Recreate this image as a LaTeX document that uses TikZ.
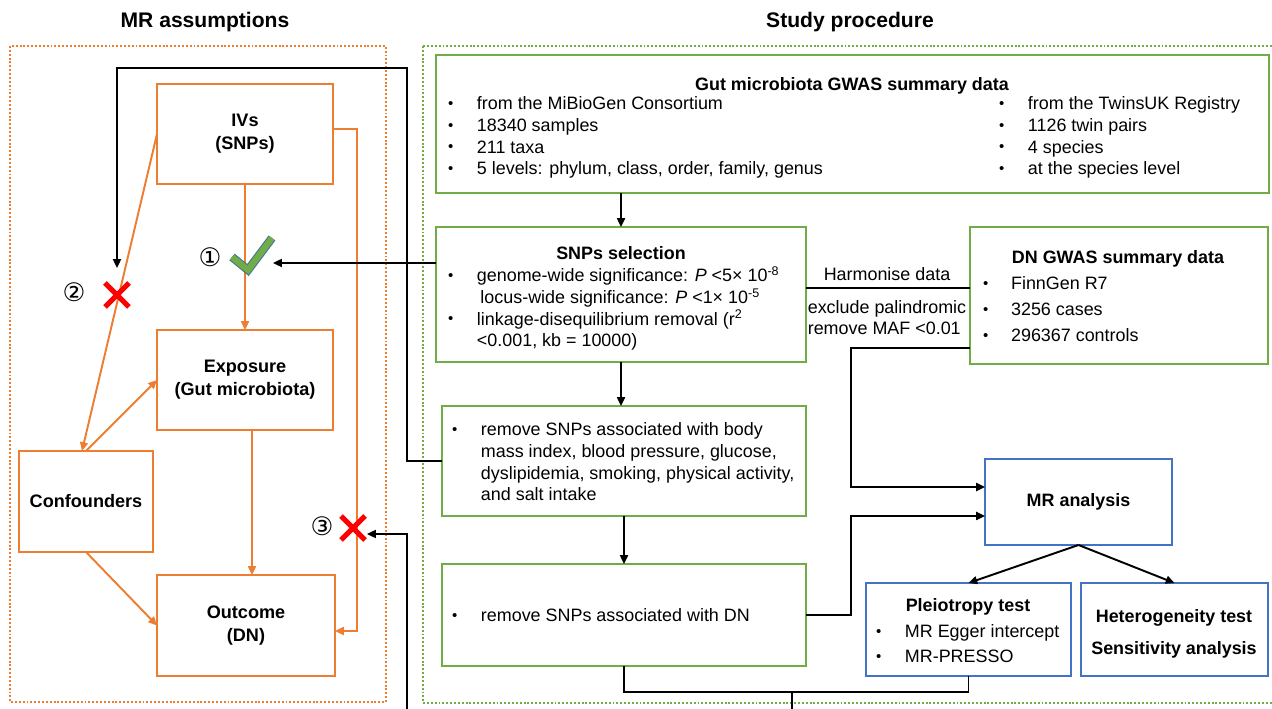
\documentclass[tikz,border=0pt]{standalone}
\usepackage{fontspec}
\setmainfont{Liberation Sans}
\newfontfamily\circfont{DejaVu Sans}
\usepackage{tikz}
\usetikzlibrary{arrows.meta,calc}
\definecolor{mrorange}{HTML}{ED7D31}
\definecolor{mrgreen}{HTML}{70AD47}
\definecolor{mrblue}{HTML}{4472C4}
\definecolor{tickblue}{HTML}{41719C}
\definecolor{tickgreen}{HTML}{70AD47}
\definecolor{xred}{HTML}{FF0000}
\newcommand{\bdot}{\raisebox{0.9pt}{\fontsize{8.5}{8.5}\selectfont\textbullet}}

\begin{document}
\begin{tikzpicture}[x=0.02cm, y=-0.02cm,
    every node/.style={font=\fontsize{10.2}{12.3}\selectfont, inner sep=0pt, outer sep=0pt},
    obox/.style={draw=mrorange, line width=1.1pt, align=center, font=\fontsize{10.3}{13}\selectfont\bfseries},
    gbox/.style={draw=mrgreen, line width=1.1pt},
    bbox/.style={draw=mrblue, line width=1.1pt, align=center, font=\fontsize{10.2}{18}\selectfont\bfseries},
    boxhead/.style={font=\fontsize{10.2}{12.3}\selectfont\bfseries},
    ttl/.style={font=\fontsize{12}{14}\selectfont\bfseries},
    blist/.style={anchor=base west},
    oarr/.style={draw=mrorange, line width=1.1pt, -{Triangle[length=5pt,width=4.5pt]}},
    barr/.style={line width=1.1pt, -{Triangle[length=5pt,width=4.5pt]}},
    bline/.style={line width=1.1pt},
    redx/.style={draw=xred, line width=3pt},
    circnum/.style={font=\fontsize{14.5}{14.5}\selectfont\circfont},
    dotframe/.style={line width=1pt, dash pattern=on 1.1pt off 1.1pt}]
    \clip (0,0) rectangle (1272,709);

    \node[ttl] (ttlmr) at (205,22) {MR assumptions};
    \node[ttl] (ttlsp) at (850,22) {Study procedure};
    \draw[dotframe, draw=mrorange] (10,46) rectangle (386,702);
    \draw[dotframe, draw=mrgreen] (423,46) rectangle (1290,703);

    \node[obox, minimum width=3.52cm, minimum height=2cm] (ivs) at (245,134) {IVs\\(SNPs)};
    \node[obox, minimum width=3.52cm, minimum height=2cm] (exp) at (245,380) {Exposure\\(Gut microbiota)};
    \node[obox, minimum width=2.68cm, minimum height=2.02cm] (conf) at (86,501.5) {Confounders};
    \node[obox, minimum width=3.56cm, minimum height=2.02cm] (out) at (246,625.5) {Outcome\\(DN)};

    \node[gbox, minimum width=16.66cm, minimum height=2.76cm] (gut) at (852.5,124) {};
    \node[gbox, minimum width=7.4cm, minimum height=2.7cm] (snp) at (621,294.5) {};
    \node[gbox, minimum width=5.96cm, minimum height=2.74cm] (dn) at (1119,295.5) {};
    \node[gbox, minimum width=7.28cm, minimum height=2.2cm] (rem1) at (624,461) {};
    \node[gbox, minimum width=7.28cm, minimum height=2.04cm] (rem2) at (624,615) {};
    \node[bbox, minimum width=3.74cm, minimum height=1.72cm] (mr) at (1078.5,502) {MR analysis};
    \node[bbox, minimum width=4.1cm, minimum height=1.86cm] (pleio) at (968.5,629.5) {};
    \node[bbox, minimum width=3.74cm, minimum height=1.86cm] (het) at (1174.5,629.5) {};
    \node[bbox, draw=none] (hett) at (1174,634) {Heterogeneity test\\Sensitivity analysis};

    \node[boxhead] (guth) at (852,86) {Gut microbiota GWAS summary data};
    \node[blist] (gutl) at (448,110) {\begin{tabular}[t]{@{}l@{\hspace{13.5pt}}l@{}}
        \bdot & from the MiBioGen Consortium\\
        \bdot & 18340 samples\\
        \bdot & 211 taxa\\
        \bdot & 5 levels: phylum, class, order, family, genus
      \end{tabular}};
    \node[blist] (gutr) at (999,110) {\begin{tabular}[t]{@{}l@{\hspace{13.5pt}}l@{}}
        \bdot & from the TwinsUK Registry\\
        \bdot & 1126 twin pairs\\
        \bdot & 4 species\\
        \bdot & at the species level
      \end{tabular}};

    \node[boxhead] (snph) at (621,253) {SNPs selection};
    \node[blist] (snpl) at (448,282) {\begin{tabular}[t]{@{}l@{\hspace{13.5pt}}l@{}}
        \bdot & genome-wide significance: \textit{P} <5× 10\textsuperscript{-8}\\
              & \hspace{2pt}locus-wide significance: \textit{P} <1× 10\textsuperscript{-5}\\
        \bdot & linkage-disequilibrium removal (r\textsuperscript{2}\\
              & <0.001, kb = 10000)
      \end{tabular}};

    \node (harm) at (887,274) {Harmonise data};
    \node[align=left, font=\fontsize{10.2}{11.9}\selectfont] (excl) at (887,318) {exclude palindromic\\remove MAF <0.01};

    \node[boxhead] (dnh) at (1118,259) {DN GWAS summary data};
    \node[blist, font=\fontsize{10.2}{14.7}\selectfont] (dnl) at (983,290) {\begin{tabular}[t]{@{}l@{\hspace{13pt}}l@{}}
        \bdot & FinnGen R7\\
        \bdot & 3256 cases\\
        \bdot & 296367 controls
      \end{tabular}};

    \node[blist] (rem1l) at (452,436) {\begin{tabular}[t]{@{}l@{\hspace{13.5pt}}l@{}}
        \bdot & remove SNPs associated with body\\
              & mass index, blood pressure, glucose,\\
              & dyslipidemia, smoking, physical activity,\\
              & and salt intake
      \end{tabular}};
    \node[blist] (rem2l) at (452,622) {\begin{tabular}[t]{@{}l@{\hspace{13.5pt}}l@{}}
        \bdot & remove SNPs associated with DN
      \end{tabular}};

    \node[boxhead] (pleioh) at (968,607) {Pleiotropy test};
    \node[blist, font=\fontsize{10.2}{14.2}\selectfont] (pleiol) at (876,638) {\begin{tabular}[t]{@{}l@{\hspace{13.5pt}}l@{}}
        \bdot & MR Egger intercept\\
        \bdot & MR-PRESSO
      \end{tabular}};

    \draw[oarr] (ivs) -- (exp);
    \draw[oarr] (ivs.west) -- ([xshift=-0.08cm]conf.north);
    \draw[oarr] (conf.north) -- (exp.west);
    \coordinate (eo) at ([xshift=0.14cm]exp.south);
    \draw[oarr] (eo) -- (eo |- out.north);
    \draw[oarr] (conf.south) -- (out.west);
    \draw[oarr] ([yshift=0.1cm]ivs.east) -- ++(24,0) |- ([yshift=-0.11cm]out.east);

    \draw[barr] (snp.north |- gut.south) -- (snp.north);
    \draw[barr] (snp.south) -- (snp.south |- rem1.north);
    \draw[barr] (rem1) -- (rem2);

    \coordinate (tk) at (273,263);
    \draw[barr] (snp.west |- tk) -- (tk);
    \coordinate (x2tip) at (117,268);
    \draw[barr] (rem1.west) -- ++(-35,0) |- ($(x2tip)+(0,-200)$) -- (x2tip);
    \coordinate (x3tip) at (367,534);
    \coordinate (botl) at (407,712);
    \draw[barr] (botl) |- (x3tip);

    \coordinate (hm) at ([yshift=0.13cm]snp.east);
    \draw[bline] (hm) -- (hm -| dn.west);
    \draw[barr] ([yshift=-1.05cm]dn.west) -- ++(-119,0) |- ([yshift=0.3cm]mr.west);
    \draw[barr] (rem2.east) -- ++(45,0) |- ([yshift=-0.28cm]mr.west);
    \draw[barr] (mr.south) -- (pleio.north);
    \draw[barr] (mr.south) -- (het.north);
    \draw[bline] (rem2.south) -- ++(0,26) coordinate (jn) -| (pleio.south);
    \coordinate (botr) at (792,712);
    \draw[bline] (jn -| botr) -- (botr);

    \draw[draw=tickblue, double=tickgreen, double distance=3.6pt, line width=0.6pt, line join=miter] (232,257) -- (248,270) -- (272,238);
    \coordinate (xa) at (117,295);
    \coordinate (xb) at (353,528);
    \foreach \c in {xa,xb}
      \draw[redx] ([shift={(-12,-12)}]\c) -- ([shift={(12,12)}]\c) ([shift={(-12,12)}]\c) -- ([shift={(12,-12)}]\c);

    \node[circnum] (n1) at (210,257) {①};
    \node[circnum] (n2) at (74,292) {②};
    \node[circnum] (n3) at (322,526) {③};
\end{tikzpicture}
\end{document}
